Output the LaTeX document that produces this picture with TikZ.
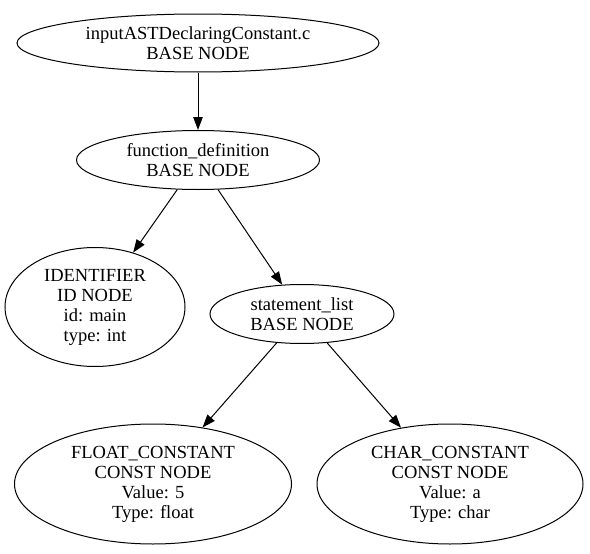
\documentclass[tikz,border=0pt]{standalone}
\usepackage{fontspec}
\setmainfont{Liberation Serif}
\usetikzlibrary{arrows.meta, shapes.geometric, positioning}

\begin{document}
\begin{tikzpicture}[
    x=1pt, y=-1pt,
    astnode/.style={
        ellipse,
        draw=black,
        line width=1pt,
        inner sep=0pt,
        minimum width=#1,
        font=\fontsize{18.5}{20}\selectfont,
        align=center
    },
    astnode/.default=180pt,
    edge/.style={
        -{Triangle[length=13pt, width=9.5pt]},
        line width=1pt,
        black
    }
]
\useasboundingbox (0,0) rectangle (590,554);

% Nodes
\node[astnode=362pt, minimum height=58pt] (root) at (198,43) {inputASTDeclaringConstant.c\\BASE NODE};
\node[astnode=243pt, minimum height=59pt] (funcdef) at (198,160) {function\_definition\\BASE NODE};
\node[astnode=180pt, minimum height=119pt] (ident) at (95,307) {IDENTIFIER\\ID NODE\\id: main\\type: int};
\node[astnode=184pt, minimum height=59pt] (stmtlist) at (302,314) {statement\_list\\BASE NODE};
\node[astnode=277pt, minimum height=120pt] (floatconst) at (153,484) {FLOAT\_CONSTANT\\CONST NODE\\Value: 5\\Type: float};
\node[astnode=266pt, minimum height=120pt] (charconst) at (450,484) {CHAR\_CONSTANT\\CONST NODE\\Value: a\\Type: char};

% Edges
\draw[edge] (root) -- (funcdef);
\draw[edge] (funcdef) -- (ident);
\draw[edge] (funcdef) -- (stmtlist);
\draw[edge] (stmtlist) -- (floatconst);
\draw[edge] (stmtlist) -- (charconst);

\end{tikzpicture}
\end{document}
